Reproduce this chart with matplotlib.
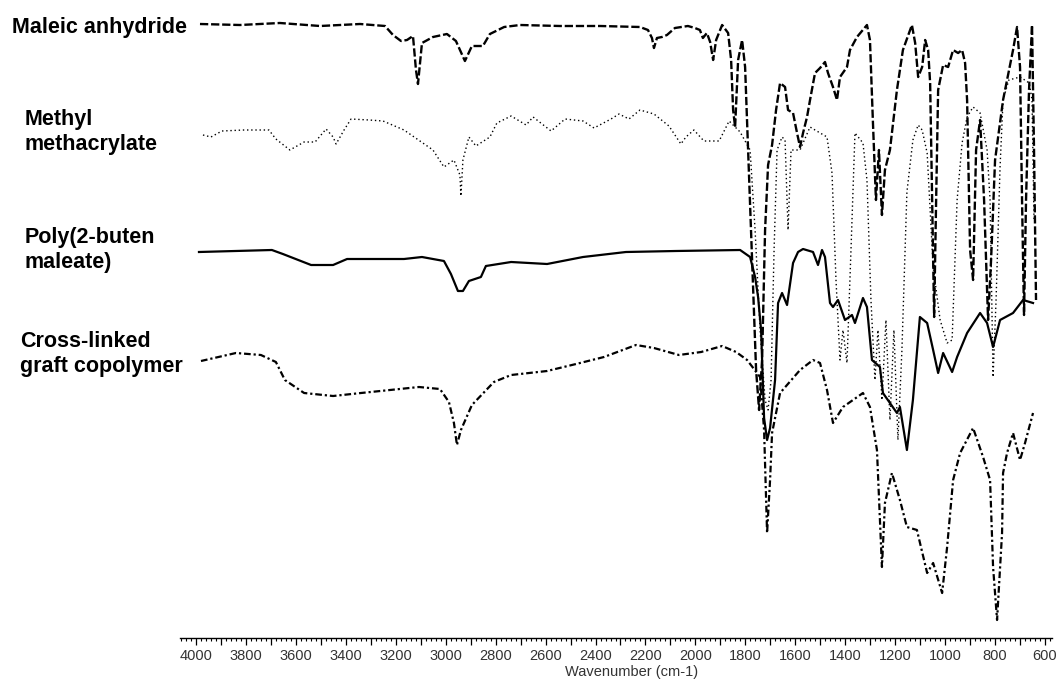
import matplotlib
matplotlib.use("Agg")
import matplotlib.pyplot as plt
from matplotlib.ticker import MultipleLocator, FuncFormatter

plt.rcParams['font.family'] = ['Liberation Sans', 'DejaVu Sans']

# FTIR traces, offset transmittance (a.u.) vs wavenumber (cm-1)
maleic_wn = [3984, 3824, 3664, 3503, 3343, 3243, 3211, 3179, 3155, 3131,
             3119, 3111, 3095, 3051, 2995, 2959, 2923, 2895, 2851, 2823,
             2766, 2702, 2542, 2382, 2222, 2190, 2174, 2166, 2154, 2134,
             2114, 2082, 2030, 2002, 1982, 1970, 1954, 1941, 1929, 1917,
             1893, 1869, 1857, 1849, 1841, 1829, 1813, 1801, 1789, 1773,
             1757, 1745, 1733, 1721, 1709, 1693, 1677, 1661, 1641, 1629,
             1609, 1593, 1581, 1569, 1553, 1541, 1521, 1501, 1481, 1469,
             1449, 1433, 1421, 1393, 1381, 1353, 1313, 1301, 1289, 1277,
             1265, 1253, 1241, 1221, 1193, 1169, 1133, 1120, 1108, 1092,
             1080, 1068, 1060, 1052, 1044, 1036, 1028, 1008, 988, 968,
             948, 932, 920, 912, 900, 888, 876, 860, 844, 828,
             816, 800, 768, 752, 728, 712, 700, 692, 684, 676,
             664, 652, 644, 636]
maleic_t = [614, 613, 615, 612, 614, 612, 603, 597, 598, 602,
            568, 554, 595, 601, 604, 597, 577, 592, 592, 604,
            611, 613, 612, 612, 611, 608, 600, 590, 600, 601,
            603, 610, 612, 610, 608, 600, 605, 596, 578, 598,
            613, 605, 578, 528, 511, 578, 598, 571, 488, 378,
            268, 228, 278, 408, 473, 493, 528, 555, 551, 528,
            525, 505, 491, 505, 521, 538, 565, 570, 576, 565,
            551, 538, 561, 571, 588, 601, 613, 598, 515, 438,
            488, 423, 468, 488, 548, 588, 613, 595, 561, 571,
            598, 588, 555, 438, 321, 438, 548, 573, 571, 588,
            585, 588, 575, 538, 388, 358, 488, 518, 438, 318,
            378, 478, 538, 558, 588, 611, 571, 438, 323, 438,
            548, 613, 488, 338]

mma_wn = [3972, 3940, 3896, 3808, 3708, 3680, 3624, 3567, 3523, 3479,
          3451, 3439, 3407, 3379, 3307, 3251, 3167, 3051, 3007, 2967,
          2943, 2939, 2931, 2907, 2879, 2823, 2795, 2738, 2678, 2650,
          2578, 2522, 2450, 2406, 2338, 2306, 2266, 2222, 2166, 2106,
          2058, 2038, 2006, 1966, 1905, 1865, 1821, 1781, 1761, 1741,
          1721, 1709, 1697, 1685, 1673, 1653, 1641, 1629, 1617, 1581,
          1541, 1521, 1473, 1453, 1437, 1421, 1409, 1393, 1377, 1361,
          1329, 1313, 1297, 1281, 1269, 1253, 1237, 1221, 1205, 1189,
          1173, 1153, 1129, 1108, 1092, 1072, 1048, 1020, 992, 972,
          952, 932, 912, 888, 860, 832, 820, 808, 796, 780,
          768, 745, 700, 663, 652, 644]
mma_t = [503, 501, 507, 508, 508, 499, 488, 496, 496, 509,
         501, 494, 508, 519, 518, 517, 508, 488, 471, 478,
         463, 442, 478, 501, 492, 501, 515, 522, 513, 521,
         507, 519, 517, 510, 519, 524, 519, 528, 524, 512,
         494, 501, 508, 497, 497, 517, 506, 488, 408, 308,
         238, 228, 258, 388, 488, 501, 498, 408, 488, 488,
         511, 508, 501, 465, 358, 278, 308, 275, 388, 505,
         495, 458, 338, 258, 308, 238, 318, 218, 308, 198,
         288, 446, 498, 513, 508, 485, 371, 318, 295, 298,
         438, 495, 521, 531, 525, 488, 438, 261, 338, 471,
         538, 558, 561, 555, 538, 418]

poly_wn = [3988, 3696, 3652, 3539, 3451, 3395, 3167, 3095, 3007, 2979,
           2951, 2931, 2907, 2859, 2839, 2738, 2594, 2450, 2278, 2078,
           1821, 1781, 1761, 1749, 1737, 1725, 1713, 1701, 1681, 1669,
           1653, 1633, 1609, 1589, 1569, 1529, 1509, 1493, 1481, 1461,
           1449, 1429, 1401, 1373, 1361, 1329, 1313, 1293, 1261, 1249,
           1193, 1181, 1153, 1129, 1101, 1072, 1048, 1028, 1008, 972,
           952, 912, 860, 832, 808, 780, 728, 688, 648]
poly_t = [386, 388, 384, 373, 373, 379, 379, 381, 377, 364,
          347, 347, 357, 361, 372, 376, 374, 381, 386, 387,
          388, 381, 361, 341, 308, 220, 198, 210, 258, 335,
          345, 333, 375, 386, 389, 386, 373, 388, 381, 335,
          331, 338, 318, 323, 315, 340, 331, 278, 271, 245,
          225, 231, 188, 238, 321, 315, 288, 265, 285, 266,
          281, 305, 325, 315, 291, 318, 325, 338, 335]

graft_wn = [3980, 3840, 3740, 3680, 3644, 3567, 3451, 3339, 3223, 3107,
            3023, 2987, 2967, 2955, 2939, 2895, 2807, 2738, 2594, 2478,
            2366, 2238, 2166, 2066, 1977, 1893, 1837, 1793, 1741, 1725,
            1713, 1701, 1693, 1661, 1581, 1529, 1501, 1473, 1449, 1409,
            1329, 1301, 1273, 1253, 1241, 1213, 1181, 1153, 1113, 1072,
            1048, 1012, 992, 968, 940, 888, 848, 820, 808, 792,
            772, 768, 752, 728, 700, 680, 648]
graft_t = [277, 285, 283, 276, 258, 245, 242, 245, 248, 251,
           249, 236, 215, 193, 208, 233, 256, 263, 267, 274,
           281, 293, 290, 283, 286, 292, 286, 278, 261, 208,
           105, 158, 205, 245, 268, 278, 275, 248, 215, 231,
           245, 231, 188, 71, 135, 165, 138, 111, 108, 65,
           75, 45, 91, 158, 185, 210, 181, 158, 71, 18,
           105, 165, 185, 205, 178, 195, 225]

labels = ["Maleic anhydride", "Methyl\nmethacrylate",
          "Poly(2-buten\nmaleate)", "Cross-linked\ngraft copolymer"]

W, H = 1056, 680
fig = plt.figure(figsize=(W / 100, H / 100), dpi=100)
ax = fig.add_axes([180 / W, 42 / H, 872 / W, 638 / H])

ax.plot(maleic_wn, maleic_t, color='black', lw=1.7, ls=(0, (3.5, 1.2)))
ax.plot(mma_wn, mma_t, color='black', lw=1.0, ls=(0, (1, 2)))
ax.plot(poly_wn, poly_t, color='black', lw=1.6, ls='-')
ax.plot(graft_wn, graft_t, color='black', lw=1.6, ls=(0, (3, 1.3, 1, 1.3)))

ax.set_xlim(4064, 572)
ax.set_ylim(0, 638)

for s in ['top', 'left', 'right']:
    ax.spines[s].set_visible(False)
ax.spines['bottom'].set_linewidth(1.0)
ax.set_yticks([])

ax.xaxis.set_major_locator(MultipleLocator(100))
ax.xaxis.set_minor_locator(MultipleLocator(20))
ax.xaxis.set_major_formatter(FuncFormatter(
    lambda v, p: f"{int(round(v))}" if int(round(v)) % 200 == 0 else ""))
ax.tick_params(axis='x', which='major', length=5, width=0.9,
               labelsize=10.5, labelcolor='#333333', pad=3)
ax.tick_params(axis='x', which='minor', length=2.5, width=0.8)

fig.text(632 / W, 1 - 672 / H, "Wavenumber (cm-1)", ha='center', va='center',
         fontsize=10.5, color='#333333')

label_pos = [(12, 28), (25, 132), (25, 250), (20, 354)]
for txt, (x, y) in zip(labels, label_pos):
    fig.text(x / W, 1 - y / H, txt, ha='left', va='center', fontsize=15.5,
             fontweight='bold', linespacing=1.25)

fig.savefig('out.png', dpi=100)
